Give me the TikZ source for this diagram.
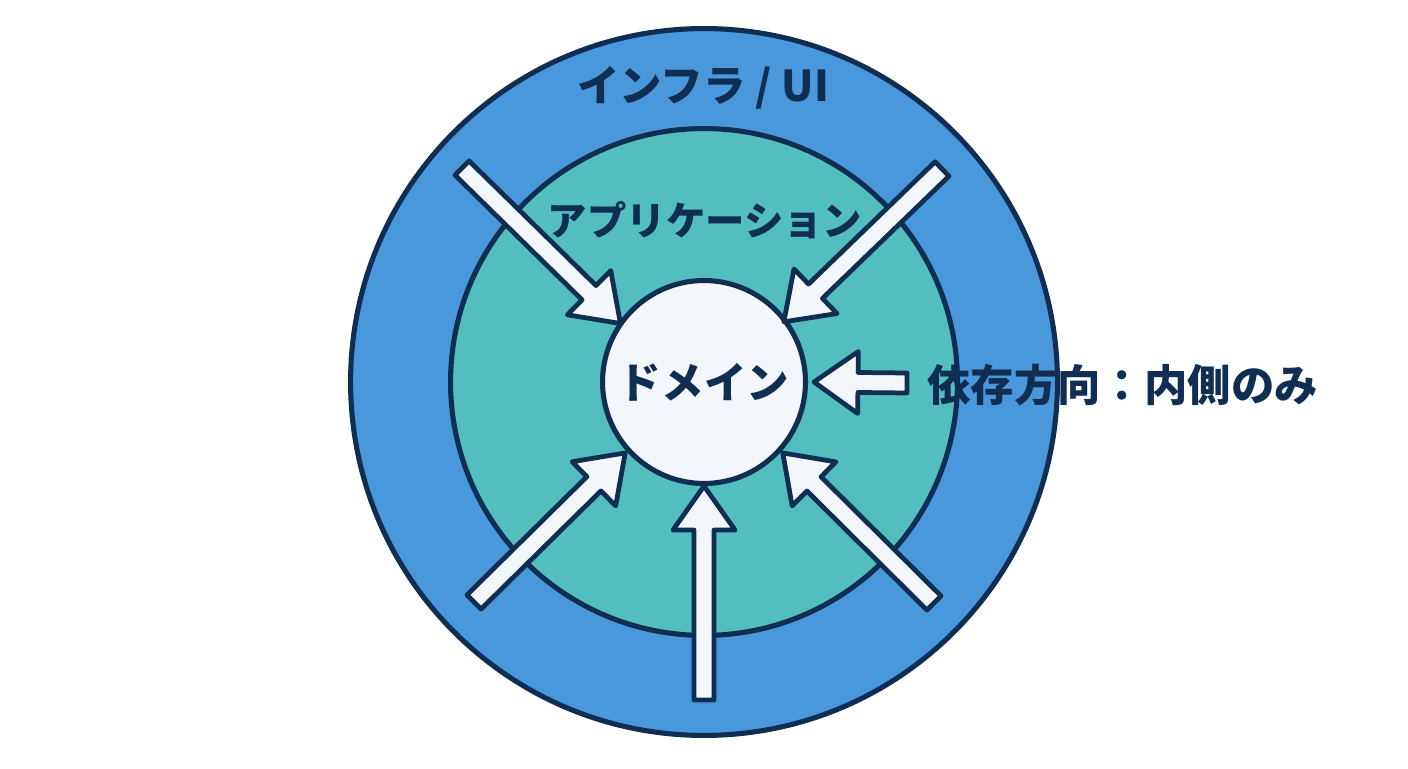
\documentclass[tikz,border=0pt]{standalone}
\usepackage{fontspec}
\newfontfamily\jpfont{Noto Sans CJK JP}
\usetikzlibrary{calc,positioning}
\definecolor{ringblue}{RGB}{74,152,220}
\definecolor{appgreen}{RGB}{82,190,192}
\definecolor{navy}{RGB}{16,45,82}
\definecolor{domwhite}{RGB}{243,246,250}

\begin{document}
\begin{tikzpicture}[x=0.02cm, y=0.02cm, line join=round,
  ring/.style={circle, draw=navy, line width=2.9pt, inner sep=0pt},
  lbl/.style={font=\jpfont\bfseries\fontsize{22.4}{26}\selectfont, text=navy},
  biglbl/.style={lbl, font=\jpfont\bfseries\fontsize{24.2}{28}\selectfont},
  fatarr/.style={draw=navy, fill=domwhite, line width=2.7pt}]
  \useasboundingbox (0,0) rectangle (1408,768);
  % three layers
  \node[ring, fill=ringblue, minimum size=14.14cm] (infra) at (704,386) {};
  \node[ring, fill=appgreen, minimum size=10.14cm] (app) at (704,386) {};
  \node[ring, fill=domwhite, minimum size=4.06cm, biglbl] (dom) at (704,386) {ドメイン};
  % dependency arrows, all pointing inwards
  \foreach \tx/\ty/\ang/\rr in {462/600/145/102, 942/599/37/100, 907/385/0/110,
                                474/166/222/106, 934/165/318/106, 704/68/270/104}{
    \coordinate (tail) at (\tx,\ty);
    \coordinate (tip) at ($(dom.center)+(\ang:\rr)$);
    \coordinate (base) at ($(tip)!0.88cm!(tail)$);
    \draw[fatarr] (tip) -- ($(base)!0.62cm!90:(tip)$) -- ($(base)!0.2cm!90:(tip)$)
      -- ($(tail)!0.2cm!90:(base)$) -- ($(tail)!0.2cm!-90:(base)$)
      -- ($(base)!0.2cm!-90:(tip)$) -- ($(base)!0.62cm!-90:(tip)$) -- cycle;
  }
  \node[biglbl] (infralbl) at (703,680) {インフラ / UI};
  \node[lbl] (applbl) at (705,548) {アプリケーション};
  \node[lbl, font=\jpfont\bfseries\fontsize{24.7}{28}\selectfont, anchor=west] (deplbl) at (921,383) {依存方向：内側のみ};
\end{tikzpicture}
\end{document}
